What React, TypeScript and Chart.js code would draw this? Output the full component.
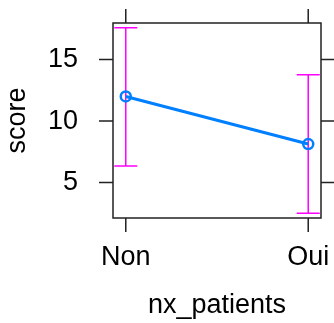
import React, { useEffect, useRef } from "react";
import { Chart, registerables } from "chart.js";

Chart.register(...registerables);

const categories = ["Non", "Oui"];
const means = [12.0, 8.13];
const lower = [6.35, 2.5];
const upper = [17.58, 13.77];
const yTicks = [5, 10, 15];
const yMin = 2.12;
const yMax = 17.97;
const xMin = -0.07;
const xMax = 1.07;

const FONT = "'Liberation Sans', Arial, Helvetica, sans-serif";
const FS = 27;

const framePlugin = {
  id: "frame",
  beforeDatasetsDraw(chart: any) {
    const { ctx, scales } = chart;
    const x = scales.x;
    const y = scales.y;
    ctx.save();
    ctx.strokeStyle = "#ff00ff";
    ctx.lineWidth = 1.5;
    categories.forEach((_, i) => {
      const px = x.getPixelForValue(i);
      const pl = y.getPixelForValue(lower[i]);
      const pu = y.getPixelForValue(upper[i]);
      const hw = 11.5;
      ctx.beginPath();
      ctx.moveTo(px, pl);
      ctx.lineTo(px, pu);
      ctx.moveTo(px - hw, pl);
      ctx.lineTo(px + hw, pl);
      ctx.moveTo(px - hw, pu);
      ctx.lineTo(px + hw, pu);
      ctx.stroke();
    });
    ctx.restore();
  },
  afterDraw(chart: any) {
    const { ctx, chartArea: a, scales } = chart;
    const x = scales.x;
    const y = scales.y;
    const tl = 14;
    ctx.save();
    ctx.strokeStyle = "#222";
    ctx.lineWidth = 1.5;
    ctx.strokeRect(a.left, a.top, a.right - a.left, a.bottom - a.top);
    ctx.beginPath();
    yTicks.forEach((v) => {
      const py = y.getPixelForValue(v);
      ctx.moveTo(a.left - tl, py);
      ctx.lineTo(a.left, py);
      ctx.moveTo(a.right, py);
      ctx.lineTo(a.right + tl, py);
    });
    categories.forEach((_, i) => {
      const px = x.getPixelForValue(i);
      ctx.moveTo(px, a.top - tl);
      ctx.lineTo(px, a.top);
      ctx.moveTo(px, a.bottom);
      ctx.lineTo(px, a.bottom + tl);
    });
    ctx.stroke();
    ctx.restore();
  },
};

export default function App() {
  const ref = useRef<HTMLCanvasElement | null>(null);
  useEffect(() => {
    if (!ref.current) return;
    const chart = new Chart(ref.current, {
      type: "scatter",
      data: {
        datasets: [
          {
            data: means.map((m, i) => ({ x: i, y: m })),
            showLine: true,
            borderColor: "#0080ff",
            borderWidth: 3,
            pointRadius: 5,
            pointBorderWidth: 2.5,
            pointBackgroundColor: "rgba(0,0,0,0)",
            pointBorderColor: "#0080ff",
          },
        ],
      },
      plugins: [framePlugin],
      options: {
        animation: false,
        responsive: false,
        devicePixelRatio: 1,
        layout: { padding: { top: 23, right: 13, left: 0, bottom: 0 }, autoPadding: false },
        plugins: { legend: { display: false }, tooltip: { enabled: false } },
        scales: {
          x: {
            type: "linear",
            min: xMin,
            max: xMax,
            afterBuildTicks: (s: any) => {
              s.ticks = categories.map((_, i) => ({ value: i }));
            },
            afterFit: (s: any) => {
              s.height = 105;
              s.paddingLeft = 0;
              s.paddingRight = 0;
              s.paddingTop = 0;
              s.paddingBottom = 0;
            },
            grid: { display: false },
            border: { display: false },
            ticks: {
              autoSkip: false,
              maxRotation: 0,
              padding: 15,
              color: "#000",
              font: { family: FONT, size: FS },
              callback: (v: any) => categories[v as number] ?? "",
            },
            title: {
              display: true,
              text: "nx_patients",
              color: "#000",
              font: { family: FONT, size: FS },
              padding: { top: 0, bottom: 1 },
            },
          },
          y: {
            type: "linear",
            min: yMin,
            max: yMax,
            afterBuildTicks: (s: any) => {
              s.ticks = yTicks.map((v) => ({ value: v }));
            },
            afterFit: (s: any) => {
              s.width = 113;
              s.paddingLeft = 0;
              s.paddingRight = 0;
              s.paddingTop = 0;
              s.paddingBottom = 0;
            },
            grid: { display: false },
            border: { display: false },
            ticks: {
              padding: 27,
              color: "#000",
              font: { family: FONT, size: FS },
              callback: (v: any) => String(v),
            },
            title: {
              display: true,
              text: "score",
              color: "#000",
              font: { family: FONT, size: FS },
              padding: { top: 1, bottom: 0 },
            },
          },
        },
      },
    } as any);
    return () => chart.destroy();
  }, []);
  return (
    <div style={{ position: "absolute", left: 0, top: 0, width: 334, height: 323 }}>
      <canvas ref={ref} width={334} height={323} />
    </div>
  );
}
